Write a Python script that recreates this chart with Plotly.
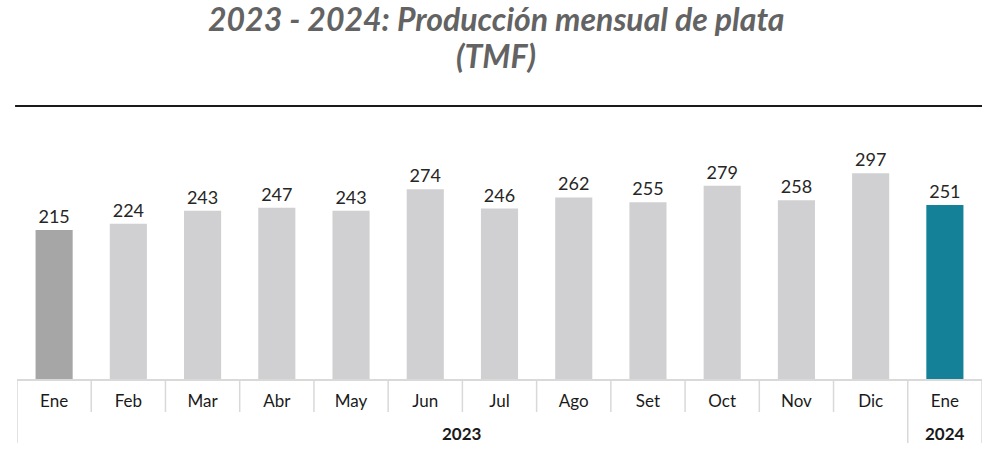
import plotly.graph_objects as go

months = ["Ene", "Feb", "Mar", "Abr", "May", "Jun", "Jul", "Ago", "Set", "Oct", "Nov", "Dic", "Ene"]
values = [215, 224, 243, 247, 243, 274, 246, 262, 255, 279, 258, 297, 251]
years = ["2023", "2024"]
year_spans = [(0, 11), (12, 12)]
title_lines = ["2023 - 2024: Producción mensual de plata", "(TMF)"]

colors = ["#A6A6A7"] + ["#D0D0D2"] * 11 + ["#148199"]
xs = list(range(len(months)))

fig = go.Figure(go.Bar(
    x=xs, y=values, width=0.5,
    marker=dict(color=colors, line=dict(width=0)),
    text=[str(v) for v in values], textposition="outside",
    textfont=dict(family="Lato", size=18, color="#262626"),
    cliponaxis=False,
))

H = 273.0
def py(p):
    return (379 - p) / H

shapes = []
shapes.append(dict(type="line", xref="paper", yref="paper", x0=-0.002, x1=1, y0=py(106), y1=py(106),
                   line=dict(color="#1a1a1a", width=2)))
for i in range(len(months) + 1):
    b = i - 0.5
    long = b in (-0.5, 11.5, 12.5)
    shapes.append(dict(type="line", xref="x", yref="paper", x0=b, x1=b, y0=0,
                       y1=py(443) if long else py(412),
                       line=dict(color="#D9D9D9", width=1.5)))

annotations = []
for yr, (a, b) in zip(years, year_spans):
    annotations.append(dict(x=(a + b) / 2, y=py(433), xref="x", yref="paper", text="<b>" + yr + "</b>",
                            yanchor="middle", showarrow=False,
                            font=dict(family="Lato", size=17, color="#1a1a1a")))
for line, yc in zip(title_lines, [18, 56]):
    annotations.append(dict(x=(496 - 17) / 965.0, y=py(yc), xref="paper", yref="paper",
                            text="<b><i>" + line + "</i></b>", borderpad=0,
                            xanchor="center", yanchor="middle", showarrow=False,
                            font=dict(family="Lato", size=32, color="#636363")))

fig.update_layout(
    width=982, height=454,
    margin=dict(l=17, r=0, t=106, b=75),
    paper_bgcolor="white", plot_bgcolor="white",
    showlegend=False,
    xaxis=dict(range=[-0.5, 12.5], tickvals=xs, ticktext=months, showgrid=False, zeroline=False,
               showline=True, linecolor="#D9D9D9", linewidth=1.5, ticks="", ticklabelstandoff=6,
               tickfont=dict(family="Lato", size=17, color="#1a1a1a")),
    yaxis=dict(range=[0, 394], visible=False),
    shapes=shapes, annotations=annotations,
)

fig.write_html("out.html", config={"displayModeBar": False},
               post_script="document.body.style.margin='0';")
